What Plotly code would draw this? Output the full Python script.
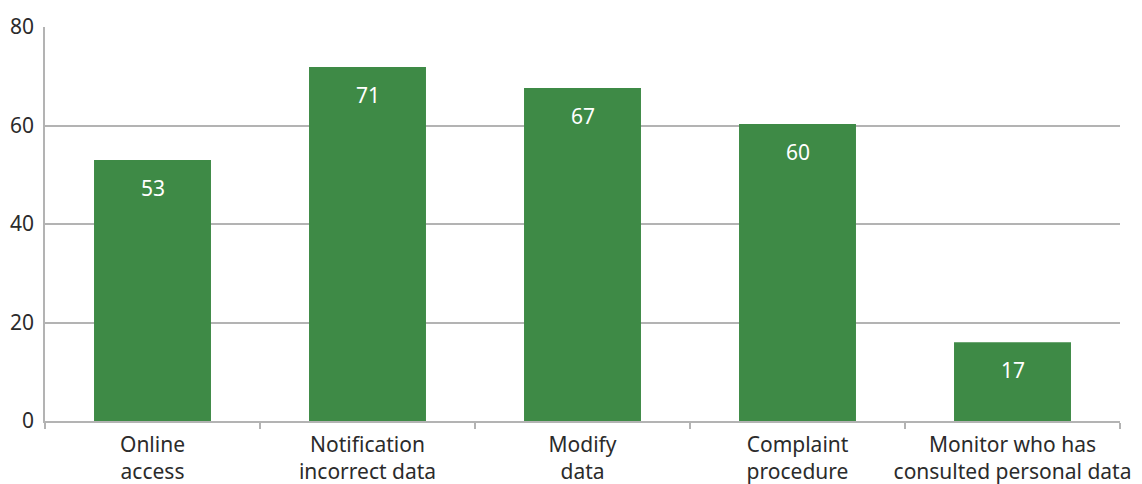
import plotly.graph_objects as go

categories = ["Online<br>access", "Notification<br>incorrect data", "Modify<br>data",
              "Complaint<br>procedure", "Monitor who has<br>consulted personal data"]
values = [53, 71.9, 67.6, 60.3, 16.0]
labels = ["53", "71", "67", "60", "17"]
y_ticks = [0, 20, 40, 60, 80]

BAR = "#3e8a46"
TXT = "#2b2b2b"
GRID = "#b3b3b3"
FONT = "Noto Sans, Open Sans, sans-serif"

fig = go.Figure(go.Bar(x=categories, y=values, marker=dict(color=BAR, line=dict(width=0)),
                       hoverinfo="skip"))

for c, v, t in zip(categories, values, labels):
    fig.add_annotation(x=c, y=v, text=t, showarrow=False, yanchor="middle", yshift=-28,
                       font=dict(family=FONT, size=21, color="white"))

fig.update_layout(
    width=1134, height=476,
    margin=dict(l=37, r=22, t=19, b=63, autoexpand=False),
    paper_bgcolor="white", plot_bgcolor="white",
    bargap=0.456,
    showlegend=False,
    font=dict(family=FONT, size=21, color=TXT),
)
fig.update_xaxes(
    type="category", range=[-0.5, 4.5], tickangle=0, automargin=False,
    showline=True, linecolor=GRID, linewidth=1.5,
    ticks="outside", tickson="boundaries", ticklen=6, tickcolor=GRID, tickwidth=1.5,
    ticklabelstandoff=4,
    tickfont=dict(family=FONT, size=21, color=TXT), showgrid=False,
)
fig.update_yaxes(
    range=[0, 80], tickvals=y_ticks, ticktext=[str(v) for v in y_ticks], automargin=False,
    showgrid=True, gridcolor=GRID, gridwidth=1.5,
    showline=True, linecolor=GRID, linewidth=1.5,
    zeroline=False, ticks="", ticklabelstandoff=5,
    tickfont=dict(family=FONT, size=21, color=TXT),
)

fig.write_html("out.html")
